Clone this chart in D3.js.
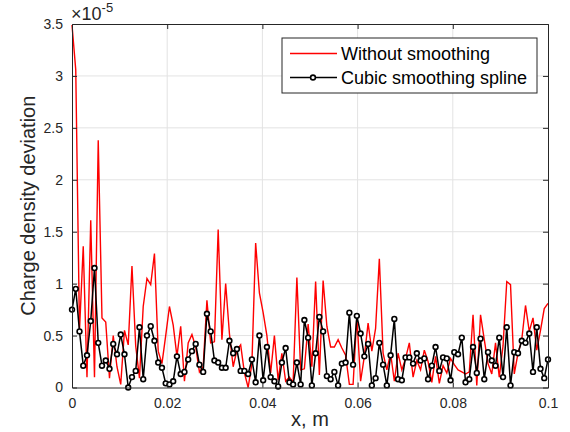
<!DOCTYPE html>
<html>
<head>
<meta charset="utf-8">
<script src="https://cdn.jsdelivr.net/npm/d3@7"></script>
<style>
  body { margin: 0; background: #fff; }
  svg { display: block; font-family: "Liberation Sans", Arial, sans-serif; }
</style>
</head>
<body>
<div id="chart"></div>
<script>
// values in units of 1e-5, 128 samples evenly spread over x = 0 .. 0.1 m
var rawValues = [
  3.49, 3.06, 0.55, 1.36, 0.10, 1.61, 0.10, 2.38, 0.67, 0.63,
  0.09, 0.50, 0.20, 0.03, 0.55, 0.41, 1.17, 0.40, 0.09, 0.78,
  1.05, 0.99, 1.29, 0.35, 0.23, 0.50, 0.78, 0.60, 0.30, 0.59,
  0.06, 0.43, 0.51, 0.39, 0.15, 0.20, 0.84, 0.43, 0.44, 1.52,
  0.46, 1.00, 0.52, 0.20, 0.36, 0.41, 0.14, 0.00, 0.23, 1.39,
  0.91, 0.72, 0.50, 0.14, 0.50, 0.07, 0.33, 0.06, 0.10, 0.05,
  1.06, 0.17, 0.18, 0.61, 0.20, 1.02, 0.12, 1.03, 0.59, 0.39,
  0.39, 0.46, 0.38, 0.31, 0.03, 0.03, 0.68, 0.06, 0.30, 0.62,
  0.35, 0.57, 1.24, 0.33, 0.17, 0.33, 0.06, 0.33, 0.17, 0.28,
  0.43, 0.10, 0.26, 0.17, 0.36, 0.25, 0.05, 0.30, 0.04, 0.21,
  0.14, 0.28, 0.22, 0.17, 0.15, 0.13, 0.15, 0.70, 0.02, 0.70,
  0.46, 0.23, 0.13, 0.43, 0.10, 0.40, 1.02, 0.99, 0.13, 0.33,
  0.46, 0.79, 0.54, 0.67, 0.36, 0.55, 0.76, 0.81
];
var smoothValues = [
  0.75, 0.95, 0.54, 0.21, 0.31, 0.64, 1.15, 0.43, 0.21, 0.26,
  0.18, 0.42, 0.32, 0.51, 0.32, 0.00, 0.10, 0.16, 0.58, 0.08,
  0.50, 0.59, 0.45, 0.24, 0.19, 0.04, 0.03, 0.06, 0.30, 0.13,
  0.15, 0.27, 0.35, 0.42, 0.22, 0.15, 0.71, 0.54, 0.26, 0.24,
  0.19, 0.19, 0.45, 0.33, 0.37, 0.16, 0.16, 0.13, 0.27, 0.05,
  0.50, 0.07, 0.39, 0.10, 0.06, 0.01, 0.24, 0.38, 0.05, 0.03,
  0.24, 0.03, 0.65, 0.48, 0.02, 0.33, 0.68, 0.54, 0.11, 0.08,
  0.15, 0.02, 0.23, 0.24, 0.72, 0.22, 0.69, 0.52, 0.30, 0.42,
  0.02, 0.09, 0.43, 0.22, 0.02, 0.31, 0.66, 0.08, 0.07, 0.29,
  0.29, 0.23, 0.33, 0.26, 0.28, 0.08, 0.21, 0.39, 0.16, 0.29,
  0.28, 0.07, 0.34, 0.32, 0.48, 0.05, 0.08, 0.39, 0.14, 0.47,
  0.08, 0.34, 0.26, 0.21, 0.48, 0.10, 0.58, 0.02, 0.34, 0.33,
  0.45, 0.43, 0.52, 0.15, 0.58, 0.18, 0.09, 0.27
];
var xTicks = [0, 0.02, 0.04, 0.06, 0.08, 0.1];
var yTicks = [0, 0.5, 1, 1.5, 2, 2.5, 3, 3.5];
var seriesNames = ["Without smoothing", "Cubic smoothing spline"];

var width = 570, height = 432;
var margin = {top: 24, right: 22, bottom: 44.5, left: 72};
var innerW = width - margin.left - margin.right;
var innerH = height - margin.top - margin.bottom;
var FONT = "'Liberation Sans', Arial, sans-serif";

var svg = d3.select("#chart").append("svg")
    .attr("width", width)
    .attr("height", height);

var x = d3.scaleLinear().domain([0, 0.1]).range([0, innerW]);
var y = d3.scaleLinear().domain([0, 3.5]).range([innerH, 0]);

var g = svg.append("g")
    .attr("transform", "translate(" + margin.left + "," + margin.top + ")");

// grid
g.append("g").selectAll("line")
    .data(xTicks.slice(1, -1))
    .join("line")
    .attr("x1", d => x(d)).attr("x2", d => x(d))
    .attr("y1", 0).attr("y2", innerH)
    .attr("stroke", "#e3e3e3");
g.append("g").selectAll("line")
    .data(yTicks.slice(1, -1))
    .join("line")
    .attr("x1", 0).attr("x2", innerW)
    .attr("y1", d => y(d)).attr("y2", d => y(d))
    .attr("stroke", "#e3e3e3");

var xs = rawValues.map((d, i) => i * 0.1 / (rawValues.length - 1));

var line = d3.line()
    .x((d, i) => x(xs[i]))
    .y(d => y(d));

g.append("path")
    .datum(rawValues)
    .attr("fill", "none")
    .attr("stroke", "#ff0000")
    .attr("stroke-width", 1.4)
    .attr("d", line);

g.append("path")
    .datum(smoothValues)
    .attr("fill", "none")
    .attr("stroke", "#000")
    .attr("stroke-width", 1.5)
    .attr("d", line);

g.append("g").selectAll("circle")
    .data(smoothValues)
    .join("circle")
    .attr("cx", (d, i) => x(xs[i]))
    .attr("cy", d => y(d))
    .attr("r", 2.4)
    .attr("fill", "#fff")
    .attr("stroke", "#000")
    .attr("stroke-width", 1.6);

// axes with inward ticks, box on all sides
var fmt = d3.format("~g");

function styleAxis(a, ends) {
    a.select(".domain").attr("stroke", "#262626").attr("stroke-width", 1);
    a.selectAll(".tick line").attr("stroke", "#262626");
    a.selectAll(".tick line").filter(d => ends.indexOf(d) >= 0).remove();
    a.selectAll("text")
        .attr("fill", "#262626")
        .style("font-size", "14px")
        .style("font-family", FONT);
}

var axB = g.append("g").attr("transform", "translate(0," + innerH + ")")
    .call(d3.axisBottom(x).tickValues(xTicks).tickSize(-5).tickPadding(11).tickFormat(fmt));
styleAxis(axB, [0, 0.1]);
var axT = g.append("g")
    .call(d3.axisTop(x).tickValues(xTicks).tickSize(-5).tickFormat(""));
styleAxis(axT, [0, 0.1]);
var axL = g.append("g")
    .call(d3.axisLeft(y).tickValues(yTicks).tickSize(-5).tickPadding(9).tickFormat(fmt));
styleAxis(axL, [0, 3.5]);
var axR = g.append("g").attr("transform", "translate(" + innerW + ",0)")
    .call(d3.axisRight(y).tickValues(yTicks).tickSize(-5).tickFormat(""));
styleAxis(axR, [0, 3.5]);

// exponent label
var expo = svg.append("text")
    .attr("x", 71).attr("y", 20)
    .attr("fill", "#262626")
    .style("font-size", "18px");
expo.append("tspan").text("\u00d710");
expo.append("tspan").attr("dy", -8).style("font-size", "13px").text("-5");

// axis titles
svg.append("text")
    .attr("x", margin.left + innerW / 2)
    .attr("y", 426)
    .attr("text-anchor", "middle")
    .attr("fill", "#262626")
    .style("font-size", "20px")
    .text("x, m");

svg.append("text")
    .attr("transform", "translate(35," + (margin.top + innerH / 2) + ") rotate(-90)")
    .attr("text-anchor", "middle")
    .attr("fill", "#262626")
    .style("font-size", "20px")
    .text("Charge density deviation");

// legend
var lg = svg.append("g").attr("transform", "translate(282,38)");
lg.append("rect")
    .attr("width", 255).attr("height", 55)
    .attr("fill", "#fff")
    .attr("stroke", "#262626");

var legendColors = ["#ff0000", "#000"];
seriesNames.forEach((name, i) => {
    var row = lg.append("g").attr("transform", "translate(0," + (15.5 + i * 24) + ")");
    row.append("line")
        .attr("x1", 8).attr("x2", 55)
        .attr("stroke", legendColors[i])
        .attr("stroke-width", i ? 1.5 : 1.4);
    if (i) {
        row.append("circle")
            .attr("cx", 31).attr("r", 2.4)
            .attr("fill", "#fff").attr("stroke", "#000").attr("stroke-width", 1.6);
    }
    row.append("text")
        .attr("x", 59).attr("dy", "0.35em")
        .attr("fill", "#000")
        .style("font-size", "18px")
        .text(name);
});
</script>
</body>
</html>
